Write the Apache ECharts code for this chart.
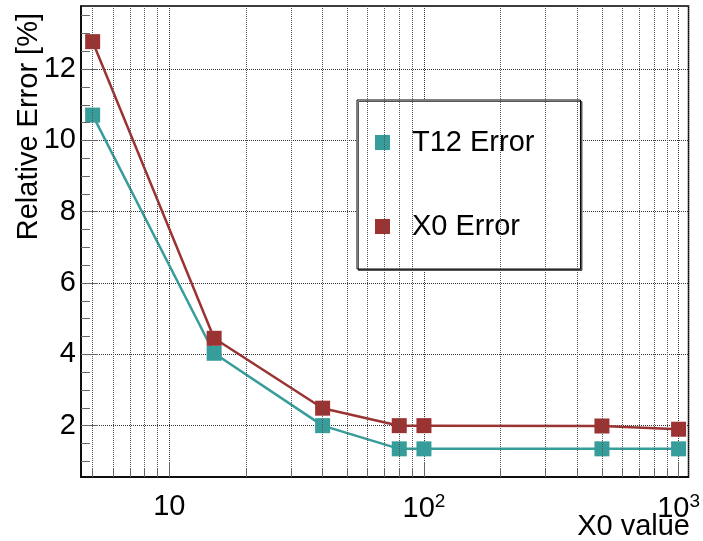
<!DOCTYPE html>
<html lang="en">
<head>
    <meta charset="UTF-8">
    <title>relative_error</title>
    <script src="https://cdn.jsdelivr.net/npm/echarts@6/dist/echarts.min.js"></script>
    <style>
        html, body { margin: 0; padding: 0; background: #fff; }
        #main { width: 703px; height: 541px; }
    </style>
</head>
<body>
<div id="main"></div>
<script>
    // data
    var x0Values = [5, 15, 40, 80, 100, 500, 1000];
    var t12Error = [10.71, 4.03, 2.0, 1.35, 1.35, 1.35, 1.35];
    var x0Error = [12.77, 4.45, 2.49, 2.0, 2.0, 1.99, 1.90];
    var seriesNames = ['T12 Error', 'X0 Error'];

    // axis ranges and ticks
    var xMin = 4.5, xMax = 1094;
    var yMin = 0.56, yMax = 13.77;
    var xMinorTicks = [5, 6, 7, 8, 9, 20, 30, 40, 50, 60, 70, 80, 90, 200, 300, 400, 500, 600, 700, 800, 900];
    var yMinorTicks = [1, 1.5, 2.5, 3, 3.5, 4.5, 5, 5.5, 6.5, 7, 7.5, 8.5, 9, 9.5, 10.5, 11, 11.5, 12.5, 13, 13.5];

    var teal = '#369d9a';
    var red = '#9b3333';
    var font = 'Liberation Sans';
    var fontSize = 29;

    // short tick lengths in data units (about 9px)
    var xTickLen = 9 / 35.67;
    var yTickFactor = Math.pow(10, 9 / 256);

    var gridLines = xMinorTicks.map(function (v) { return { xAxis: v }; });
    var xTicks = xMinorTicks.map(function (v) {
        return [{ coord: [v, yMin] }, { coord: [v, yMin + xTickLen] }];
    });
    var yTicks = yMinorTicks.map(function (v) {
        return [{ coord: [xMin, v] }, { coord: [xMin * yTickFactor, v] }];
    });

    var chart = echarts.init(document.getElementById('main'));
    chart.setOption({
        backgroundColor: '#fff',
        animation: false,
        grid: {
            left: 81, right: 12, top: 6, bottom: 64,
            show: true, borderColor: '#000', borderWidth: 1.5
        },
        legend: {
            orient: 'vertical',
            left: 357, top: 100,
            data: seriesNames,
            icon: 'rect',
            itemWidth: 15, itemHeight: 15,
            itemGap: 55,
            padding: [28, 46, 28, 18],
            backgroundColor: '#fff',
            borderColor: '#000', borderWidth: 1,
            shadowColor: '#555', shadowBlur: 0, shadowOffsetX: 1.5, shadowOffsetY: 1.5,
            textStyle: { fontFamily: font, fontSize: fontSize, color: '#000', padding: [0, 0, 0, 17] }
        },
        graphic: [
            {
                type: 'text', x: 29, y: 13, rotation: Math.PI / 2,
                style: { text: 'Relative Error [%]', fontFamily: font, fontSize: fontSize, fill: '#000', align: 'right', verticalAlign: 'middle' }
            },
            {
                type: 'text', x: 690, y: 527,
                style: { text: 'X0 value', fontFamily: font, fontSize: fontSize, fill: '#000', align: 'right', verticalAlign: 'middle' }
            }
        ],
        xAxis: {
            type: 'log', logBase: 10, min: xMin, max: xMax,
            axisLine: { show: true, lineStyle: { color: '#000', width: 1.5 } },
            axisTick: { show: true, inside: true, length: 15, lineStyle: { color: '#666' } },
            splitLine: { show: true, lineStyle: { type: 'dotted', color: '#333', width: 1 } },
            axisLabel: {
                showMinLabel: false, showMaxLabel: false, margin: 15,
                fontFamily: font, fontSize: fontSize, color: '#000',
                formatter: function (v) {
                    var e = Math.round(Math.log10(v));
                    return e === 1 ? '10' : '10{sup|' + e + '}';
                },
                rich: { sup: { fontFamily: font, fontSize: 19, color: '#000', padding: [0, 0, 15, 0] } }
            }
        },
        yAxis: {
            type: 'value', min: yMin, max: yMax, splitNumber: 6,
            axisLine: { show: true, lineStyle: { color: '#000', width: 1.5 } },
            axisTick: { show: true, inside: true, length: 17, lineStyle: { color: '#666' } },
            splitLine: { show: true, lineStyle: { type: 'dotted', color: '#333', width: 1 } },
            axisLabel: {
                showMinLabel: false, showMaxLabel: false, margin: 5,
                fontFamily: font, fontSize: fontSize, color: '#000'
            }
        },
        series: [
            {
                name: 'grid', type: 'line', data: [], silent: true, z: 1,
                markLine: {
                    silent: true, symbol: ['none', 'none'], animation: false,
                    label: { show: false },
                    lineStyle: { type: 'dotted', color: '#555', width: 1 },
                    data: gridLines
                }
            },
            {
                name: 'ticks', type: 'line', data: [], silent: true, z: 1,
                markLine: {
                    silent: true, symbol: ['none', 'none'], animation: false,
                    label: { show: false },
                    lineStyle: { type: 'solid', color: '#666', width: 1 },
                    data: xTicks.concat(yTicks)
                }
            },
            {
                name: seriesNames[0], type: 'line', z: 3,
                data: x0Values.map(function (x, i) { return [x, t12Error[i]]; }),
                symbol: 'rect', symbolSize: 15,
                itemStyle: { color: teal },
                lineStyle: { color: teal, width: 2.5 }
            },
            {
                name: seriesNames[1], type: 'line', z: 4,
                data: x0Values.map(function (x, i) { return [x, x0Error[i]]; }),
                symbol: 'rect', symbolSize: 15,
                itemStyle: { color: red },
                lineStyle: { color: red, width: 2.5 }
            }
        ]
    });
</script>
</body>
</html>
